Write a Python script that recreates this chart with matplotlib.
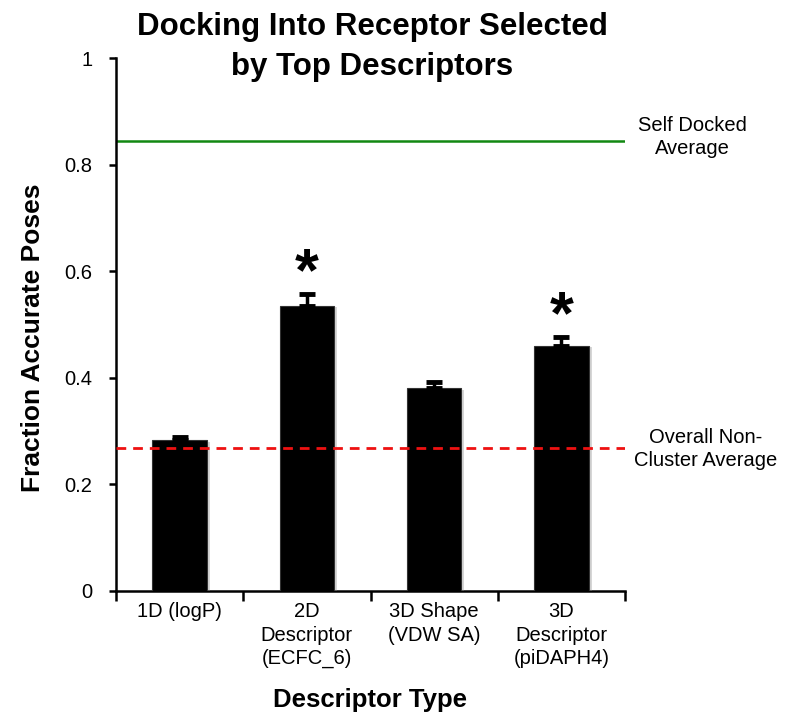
import matplotlib
matplotlib.use("Agg")
import matplotlib.pyplot as plt
import matplotlib.patheffects as pe
import numpy as np

plt.rcParams['font.family'] = ['Liberation Sans', 'DejaVu Sans']

categories = ["1D (logP)", "2D\nDescriptor\n(ECFC_6)", "3D Shape\n(VDW SA)", "3D\nDescriptor\n(piDAPH4)"]
values = [0.283, 0.535, 0.380, 0.460]
errors = [0.006, 0.022, 0.013, 0.017]
significant = [False, True, False, True]
self_docked_avg = 0.844
non_cluster_avg = 0.268
y_ticks = [0, 0.2, 0.4, 0.6, 0.8, 1.0]
y_tick_labels = ["0", "0.2", "0.4", "0.6", "0.8", "1"]

fig = plt.figure(figsize=(7.86, 7.15), dpi=100)
ax = fig.add_axes([116/786, 1 - 591/715, (625-116)/786, (591-58)/715])

x = np.arange(len(categories))
bars = ax.bar(x, values, width=0.43, color='black', edgecolor='#333333', linewidth=0.8, zorder=3)
for b in bars:
    b.set_path_effects([pe.SimplePatchShadow(offset=(2, -1), shadow_rgbFace='0.55', alpha=0.35), pe.Normal()])

ax.errorbar(x, values, yerr=[np.zeros(len(values)), errors], fmt='none', ecolor='black',
            elinewidth=2.5, capsize=5.5, capthick=3.5, zorder=4)

for xi, v, e, s in zip(x, values, errors, significant):
    if s:
        ax.text(xi, v + e + 0.007, "*", ha='center', va='baseline', fontsize=44, fontweight='bold', zorder=5)

ax.axhline(self_docked_avg, color='#118811', linewidth=1.8, zorder=2)
ax.axhline(non_cluster_avg, color='#ee1111', linewidth=2, linestyle=(0, (3.5, 2.5)), zorder=5)

ax.set_xlim(-0.5, len(categories) - 0.5)
ax.set_ylim(0, 1)
ax.set_yticks(y_ticks)
ax.set_yticklabels(y_tick_labels, fontsize=14.5)
ax.set_xticks(x)
ax.set_xticklabels(categories, fontsize=14.5, linespacing=1.3, va='top')
ax.tick_params(axis='x', which='major', length=0, pad=8)
ax.set_xticks(np.arange(-0.5, len(categories)), minor=True)
ax.tick_params(axis='x', which='minor', length=7, width=1.8, direction='out')
ax.tick_params(axis='y', length=5, width=1.8, direction='out', pad=12)

for side in ['top', 'right']:
    ax.spines[side].set_visible(False)
for side in ['left', 'bottom']:
    ax.spines[side].set_linewidth(1.8)

fig.text(372/786, 1 - 47/715, "Docking Into Receptor Selected\nby Top Descriptors", ha='center', va='center',
         fontsize=22.5, fontweight='bold', linespacing=1.42)
fig.text(33/786, 1 - 338/715, "Fraction Accurate Poses", rotation=90, ha='center', va='center',
         fontsize=19, fontweight='bold')
fig.text(370/786, 1 - 700/715, "Descriptor Type", ha='center', va='center', fontsize=18.5, fontweight='bold')

fig.text(692/786, 1 - 137/715, "Self Docked\nAverage", ha='center', va='center', fontsize=14.5, linespacing=1.3)
fig.text(706/786, 1 - 449/715, "Overall Non-\nCluster Average", ha='center', va='center', fontsize=14.5, linespacing=1.3)

fig.savefig("out.png", dpi=100)
